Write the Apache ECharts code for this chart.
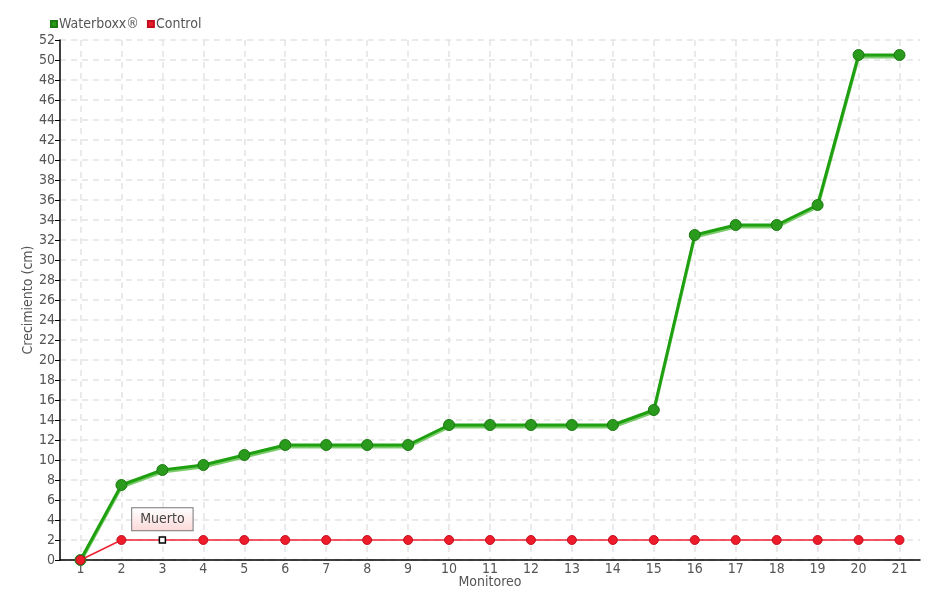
<!DOCTYPE html>
<html><head><meta charset="utf-8">
<script src="https://cdn.jsdelivr.net/npm/echarts@6/dist/echarts.min.js"></script>
<style>html,body{margin:0;padding:0;background:#fff}#c{width:940px;height:600px}</style>
</head><body><div id="c"></div>
<script>
const categories = ['1','2','3','4','5','6','7','8','9','10','11','12','13','14','15','16','17','18','19','20','21'];
const waterboxx = [0, 7.5, 9, 9.5, 10.5, 11.5, 11.5, 11.5, 11.5, 13.5, 13.5, 13.5, 13.5, 13.5, 15, 32.5, 33.5, 33.5, 35.5, 50.5, 50.5];
const control = [0, 2, 2, 2, 2, 2, 2, 2, 2, 2, 2, 2, 2, 2, 2, 2, 2, 2, 2, 2, 2];
const noteIndex = 2;
const noteText = 'Muerto';

const FONT = '"DejaVu Sans Condensed", "DejaVu Sans", sans-serif';
const chart = echarts.init(document.getElementById('c'), null, {renderer: 'canvas'});
const controlData = control.map((v, i) => i === noteIndex ? {
  value: v,
  symbol: 'rect', symbolSize: 6,
  itemStyle: {color: '#fff', borderColor: '#000', borderWidth: 1.5},
  label: {
    show: true, position: 'top', distance: 6, formatter: noteText,
    fontFamily: FONT, fontSize: 14, color: '#444',
    backgroundColor: {type: 'linear', x: 0, y: 0, x2: 0, y2: 1, colorStops: [{offset: 0, color: '#ffffff'}, {offset: 1, color: '#fcd8d8'}]},
    borderColor: '#777', borderWidth: 1, padding: [4, 8, 4, 8]
  }
} : v);

chart.setOption({
  animation: false,
  textStyle: {fontFamily: FONT},
  legend: {
    left: 45, top: 12, itemWidth: 6, itemHeight: 6, itemGap: 8, icon: 'rect',
    textStyle: {fontFamily: FONT, fontSize: 14, color: '#555', padding: [0, 0, 0, -3]},
    data: ['Waterboxx®', 'Control']
  },
  grid: {left: 60, right: 20, top: 40, bottom: 40, containLabel: false},
  xAxis: {
    type: 'category', data: categories, boundaryGap: true,
    name: 'Monitoreo', nameLocation: 'middle', nameGap: 15, nameMoveOverlap: false,
    nameTextStyle: {fontFamily: FONT, fontSize: 14, color: '#555'},
    axisLine: {lineStyle: {color: '#000', width: 1.5}},
    axisTick: {alignWithLabel: true, length: 5, lineStyle: {color: '#000'}},
    axisLabel: {fontFamily: FONT, fontSize: 14, color: '#555', margin: 2},
    splitLine: {show: true, alignWithLabel: true, lineStyle: {color: '#e4e4e4', type: [6, 5], width: 1.5}}
  },
  yAxis: {
    type: 'value', min: 0, max: 52, interval: 2,
    name: 'Crecimiento (cm)', nameLocation: 'middle', nameGap: 25, nameRotate: 90, nameMoveOverlap: false,
    nameTextStyle: {fontFamily: FONT, fontSize: 14, color: '#555'},
    axisLine: {show: true, lineStyle: {color: '#000', width: 1.5}},
    axisTick: {show: true, length: 5, lineStyle: {color: '#000'}},
    axisLabel: {fontFamily: FONT, fontSize: 14, color: '#555', margin: 5},
    splitLine: {show: true, lineStyle: {color: '#e4e4e4', type: [6, 5], width: 1.5}}
  },
  series: [
    {
      name: 'Waterboxx®', type: 'line', data: waterboxx,
      symbol: 'circle', symbolSize: 11, showAllSymbol: true,
      color: '#1fa010',
      lineStyle: {color: '#1fa010', width: 3, shadowColor: 'rgba(90,190,70,0.8)', shadowOffsetY: 2, shadowBlur: 0},
      itemStyle: {color: '#2a9a1c', borderColor: '#1b7a12', borderWidth: 1},
      z: 2
    },
    {
      name: 'Control', type: 'line', data: controlData,
      symbol: 'circle', symbolSize: 9, showAllSymbol: true,
      color: '#ee1c2a',
      lineStyle: {color: '#ee2233', width: 1.5},
      itemStyle: {color: '#ee1c2a', borderColor: '#c01020', borderWidth: 1},
      z: 3
    }
  ]
});
</script></body></html>
